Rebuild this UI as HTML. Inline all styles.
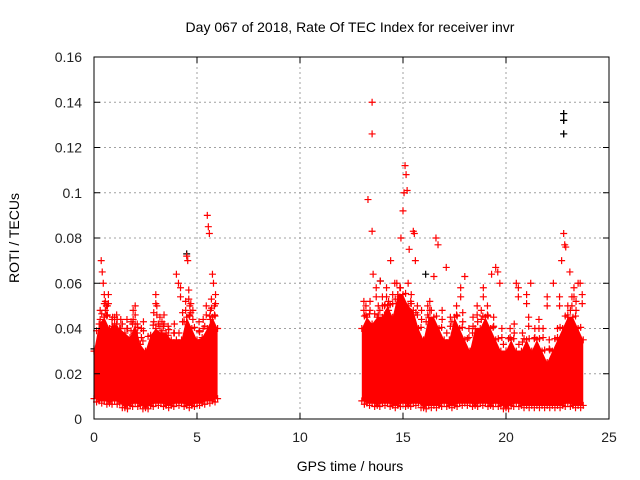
<!DOCTYPE html>
<html><head><meta charset="utf-8"><style>
body{margin:0;background:#fff}
svg{display:block;font-family:"Liberation Sans",sans-serif}
</style></head><body>
<svg id="c" width="640" height="480">
<text x="350" y="32" font-size="14" text-anchor="middle">Day 067 of 2018, Rate Of TEC Index for receiver invr</text>
<text x="350" y="471" font-size="14" text-anchor="middle">GPS time / hours</text>
<text transform="translate(19,238) rotate(-90)" font-size="14" text-anchor="middle">ROTI / TECUs</text>
<g id="grid"></g><g id="marks"></g><g id="axes"></g>
</svg>
<script>
const xTicks=[0,5,10,15,20,25];
const yTicks=[0,0.02,0.04,0.06,0.08,0.1,0.12,0.14,0.16];
const yLabels=["0","0.02","0.04","0.06","0.08","0.1","0.12","0.14","0.16"];
const binTimes1=[0,0.25,0.5,0.75,1,1.25,1.5,1.75,2,2.25,2.5,2.75,3,3.25,3.5,3.75,4,4.25,4.5,4.75,5,5.25,5.5,5.75,6];
const binHigh1=[0.03,0.042,0.045,0.04,0.042,0.04,0.038,0.036,0.042,0.033,0.03,0.037,0.04,0.038,0.038,0.035,0.035,0.035,0.045,0.04,0.035,0.036,0.04,0.045,0.04];
const binLow1=[0.009,0.008,0.008,0.007,0.008,0.007,0.005,0.006,0.007,0.006,0.005,0.006,0.007,0.007,0.006,0.006,0.007,0.007,0.006,0.006,0.007,0.007,0.008,0.008,0.009];
const binTimes2=[13,13.25,13.5,13.75,14,14.25,14.5,14.75,15,15.25,15.5,15.75,16,16.25,16.5,16.75,17,17.25,17.5,17.75,18,18.25,18.5,18.75,19,19.25,19.5,19.75,20,20.25,20.5,20.75,21,21.25,21.5,21.75,22,22.25,22.5,22.75,23,23.25,23.5,23.75];
const binHigh2=[0.04,0.045,0.042,0.045,0.045,0.05,0.045,0.055,0.055,0.05,0.048,0.04,0.035,0.045,0.045,0.04,0.035,0.035,0.045,0.04,0.035,0.03,0.04,0.04,0.045,0.04,0.035,0.03,0.03,0.035,0.03,0.03,0.035,0.03,0.035,0.03,0.025,0.03,0.035,0.04,0.045,0.045,0.04,0.035];
const binLow2=[0.008,0.007,0.007,0.006,0.007,0.007,0.006,0.006,0.007,0.006,0.007,0.007,0.005,0.006,0.006,0.006,0.007,0.006,0.006,0.007,0.007,0.007,0.006,0.007,0.007,0.006,0.007,0.006,0.005,0.006,0.007,0.006,0.006,0.006,0.006,0.006,0.006,0.006,0.006,0.006,0.007,0.006,0.006,0.006];
const outT=[0.35,0.4,0.45,0.5,0.6,0.7,1.0,1.3,1.8,2.0,2.4,3.0,3.05,3.4,4.0,4.1,4.2,4.5,4.55,4.6,4.7,5.5,5.55,5.6,5.75,5.8,5.9,5.65,
13.5,13.5,13.3,13.5,13.55,13.7,13.9,14.2,14.4,14.6,14.75,14.9,15.0,15.05,15.1,15.15,15.2,15.3,15.5,15.55,15.6,16.5,16.6,16.7,17.1,17.8,18.0,18.9,19.3,19.5,19.6,19.7,20.5,20.6,21.0,21.2,22.0,22.3,22.6,22.7,22.8,22.85,22.9,23.1,23.3,23.5,23.6,23.7,
0.3,0.55,0.65,0.9,1.1,1.6,1.9,2.1,2.3,2.9,3.2,3.3,3.6,3.9,4.3,4.45,4.65,4.8,5.1,5.3,5.45,5.7,5.85,
13.1,13.2,13.4,13.8,14.0,14.1,14.3,14.5,14.7,14.85,15.25,15.4,15.7,15.9,16.2,16.3,16.9,17.3,17.6,17.9,18.2,18.4,18.6,18.8,19.1,19.4,19.8,20.2,20.4,20.8,21.1,21.4,21.6,21.8,22.1,22.5,23.0,23.2,23.4];
const outV=[0.07,0.065,0.06,0.055,0.05,0.055,0.045,0.044,0.043,0.05,0.043,0.055,0.05,0.046,0.064,0.06,0.058,0.072,0.07,0.057,0.051,0.09,0.085,0.082,0.064,0.06,0.055,0.048,
0.14,0.126,0.097,0.083,0.064,0.058,0.061,0.058,0.07,0.06,0.055,0.08,0.092,0.1,0.112,0.108,0.101,0.075,0.083,0.082,0.07,0.063,0.08,0.077,0.067,0.058,0.063,0.058,0.064,0.067,0.065,0.06,0.06,0.058,0.055,0.06,0.054,0.06,0.054,0.07,0.082,0.077,0.076,0.065,0.058,0.06,0.06,0.055,
0.048,0.052,0.05,0.045,0.046,0.044,0.048,0.042,0.04,0.047,0.045,0.043,0.041,0.042,0.047,0.052,0.05,0.048,0.043,0.044,0.05,0.053,0.05,
0.052,0.05,0.052,0.05,0.054,0.05,0.052,0.055,0.06,0.058,0.06,0.055,0.05,0.048,0.05,0.052,0.048,0.045,0.05,0.047,0.04,0.045,0.05,0.048,0.05,0.045,0.04,0.04,0.042,0.038,0.045,0.04,0.044,0.04,0.035,0.04,0.05,0.054,0.052];
const blackT=[0,4.5,13.9,22.8,22.8,22.8,16.1];
const blackV=[0.031,0.073,0.061,0.135,0.132,0.126,0.064];
const X=t=>94+t*(515/25), Y=v=>419-v*(362/0.16);
const NS="http://www.w3.org/2000/svg";
function mk(tag,parent,attrs){const e=document.createElementNS(NS,tag);for(const k in attrs)e.setAttribute(k,attrs[k]);parent.appendChild(e);return e;}
const grid=document.getElementById('grid'),marks=document.getElementById('marks'),axes=document.getElementById('axes');
xTicks.forEach(t=>{if(t>0&&t<25){const l=mk('line',grid,{x1:X(t),x2:X(t),y1:Y(0.16),y2:Y(0),stroke:'#a0a0a0','stroke-dasharray':'2,3'});

}
const tx=mk('text',axes,{x:X(t),y:442,'font-size':14,'text-anchor':'middle',fill:'#222'});tx.textContent=t;


mk('line',axes,{x1:X(t),x2:X(t),y1:Y(0),y2:Y(0)-6,stroke:'#000'});mk('line',axes,{x1:X(t),x2:X(t),y1:Y(0.16),y2:Y(0.16)+6,stroke:'#000'});});
yTicks.forEach((v,i)=>{if(v>0&&v<0.16){const l=mk('line',grid,{x1:X(0),x2:X(25),y1:Y(v),y2:Y(v),stroke:'#a0a0a0','stroke-dasharray':'2,3'});

}
const tx=mk('text',axes,{x:82,y:Y(v)+5,'font-size':14,'text-anchor':'end',fill:'#222'});tx.textContent=yLabels[i];


mk('line',axes,{x1:X(0),x2:X(0)+6,y1:Y(v),y2:Y(v),stroke:'#000'});mk('line',axes,{x1:X(25),x2:X(25)-6,y1:Y(v),y2:Y(v),stroke:'#000'});});
const frame=mk('rect',axes,{x:X(0),y:Y(0.16),width:X(25)-X(0),height:Y(0)-Y(0.16),fill:'none',stroke:'#000'});


function plus(t,v,col){const p=mk('path',marks,{d:`M${X(t)-3.5},${Y(v)}h7M${X(t)},${Y(v)-3.5}v7`,stroke:col,'stroke-width':1.2});

}
function band(T,H,L,name){let d='M'+T.map((t,i)=>X(t)+','+Y(H[i])).join('L')+'L'+T.map((t,i)=>X(t)+','+Y(L[i])).reverse().join('L')+'Z';
const p=mk('path',marks,{d:d,fill:'#ff0000'});


T.forEach((t,i)=>{plus(t,H[i],'#ff0000');plus(t,L[i],'#ff0000');if(i<T.length-1){plus((t+T[i+1])/2,(H[i]+H[i+1])/2+0.003,'#ff0000');plus((t+T[i+1])/2,(L[i]+L[i+1])/2-0.001,'#ff0000');}});}
blackT.forEach((t,i)=>plus(t,blackV[i],'#000'));
band(binTimes1,binHigh1,binLow1,'roti-cluster-early');
band(binTimes2,binHigh2,binLow2,'roti-cluster-late');
outT.forEach((t,i)=>{plus(t,outV[i],'#ff0000');if(outV[i]<0.06)plus(t,outV[i]-0.004,'#ff0000');});
blackT.forEach((t,i)=>{if(blackV[i]>0.12)plus(t,blackV[i],'#000');});
</script>
</body></html>
